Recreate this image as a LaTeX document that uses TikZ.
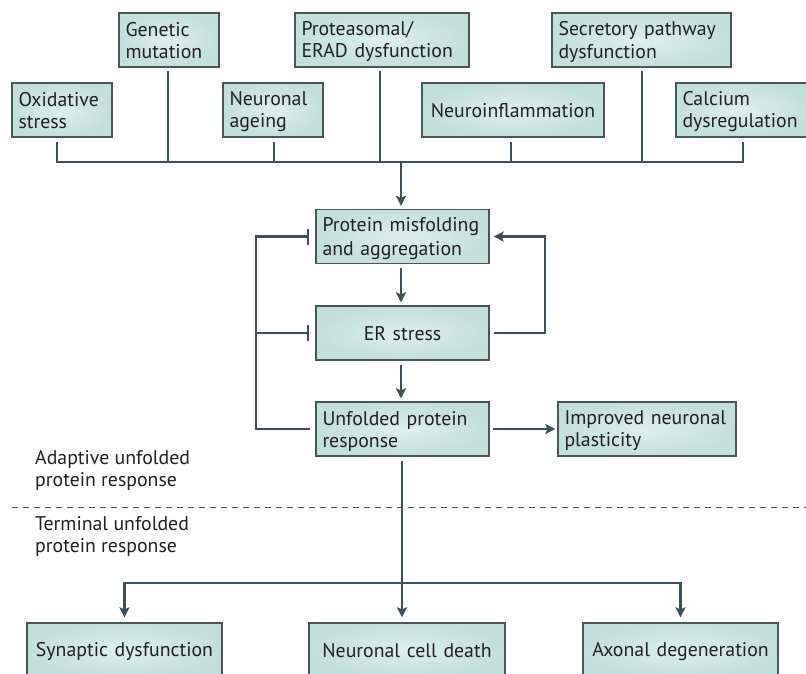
\documentclass[tikz,border=0pt]{standalone}
\usepackage{fontspec}
\setmainfont{PT Sans}
\usetikzlibrary{arrows.meta}
\definecolor{boxin}{HTML}{DDEFEC}
\definecolor{boxout}{HTML}{C3DFDA}
\definecolor{boxline}{HTML}{4A5656}
\definecolor{linec}{HTML}{3D4F5B}
\definecolor{txt}{HTML}{231F20}
\definecolor{dashc}{HTML}{505050}
\newcommand{\mystrut}{\rule[-4pt]{0pt}{22pt}}
\begin{document}
\begin{tikzpicture}[x=1pt,y=-1pt,
  nbox/.style={draw=boxline, line width=1.3pt, inner color=boxin, outer color=boxout,
    inner xsep=6.5pt, inner ysep=0pt, minimum height=54pt, align=left,
    font=\fontsize{19.8}{22}\selectfont, text=txt,
    execute at begin node=\mystrut, execute at end node=\mystrut},
  lbl/.style={inner sep=0pt, align=left, font=\fontsize{19.8}{22}\selectfont, text=txt,
    execute at begin node=\mystrut, execute at end node=\mystrut},
  conn/.style={draw=linec, line width=2.8pt},
  >={Stealth[length=10pt,width=10pt,inset=2pt]},
  arr/.style={conn, ->},
  inh/.style={conn, -{Bar[width=16pt]}},
  dashline/.style={draw=dashc, line width=0.9pt, dash pattern=on 6pt off 5pt}]
\useasboundingbox (0,0) rectangle (806,673);
\clip (0,0) rectangle (806,673);
\fill[white] (0,0) rectangle (806,673);
% top causes
\node[nbox, text width=87pt] (ox) at (62,110) {Oxidative\\stress};
\node[nbox, text width=87pt] (gen) at (169,40) {Genetic\\mutation};
\node[nbox, text width=87pt] (age) at (273,110) {Neuronal\\ageing};
\node[nbox, text width=161pt] (prot) at (382,40) {Proteasomal/\\ERAD dysfunction};
\node[nbox, text width=169pt, align=center] (infl) at (513,110) {Neuroinflammation};
\node[nbox, text width=166pt] (sec) at (641.5,40) {\mbox{Secretory pathway}\\dysfunction};
\node[nbox, text width=119pt] (cal) at (742,110) {Calcium\\dysregulation};
% central chain
\node[nbox, text width=160pt] (pm) at (402.5,236.5) {\mbox{Protein misfolding}\\and aggregation};
\node[nbox, text width=160pt, align=center] (er) at (402.5,333) {ER stress};
\node[nbox, text width=160pt] (upr) at (402.5,429) {\mbox{Unfolded protein}\\response};
\node[nbox, text width=165pt] (imp) at (647,429) {\mbox{Improved neuronal}\\plasticity};
% outcomes
\node[nbox, text width=182pt, align=center] (syn) at (124.5,650) {Synaptic dysfunction};
\node[nbox, text width=183pt, align=center] (ncd) at (407,650) {Neuronal cell death};
\node[nbox, text width=182pt, align=center] (axo) at (680.5,650) {Axonal degeneration};
% labels
\node[lbl, anchor=north west] (ad) at (35,450) {\mbox{Adaptive unfolded}\\protein response};
\node[lbl, anchor=north west] (te) at (35,516) {\mbox{Terminal unfolded}\\protein response};
% bus coordinates
\coordinate (b1) at (57,162);
\coordinate (b2) at (168,162);
\coordinate (b3) at (274,162);
\coordinate (b4) at (380,162);
\coordinate (bM) at (401,162);
\coordinate (b5) at (511,162);
\coordinate (b6) at (642,162);
\coordinate (b7) at (743,162);
\draw[conn] ([yshift=-4pt]b1 |- ox.south) -- (b1) -- (b7) -- ([yshift=-4pt]b7 |- cal.south);
\draw[conn] ([yshift=-3pt]b2 |- gen.south) -- (b2);
\draw[conn] ([yshift=-4pt]b3 |- age.south) -- (b3);
\draw[conn] ([yshift=-3pt]b4 |- prot.south) -- (b4);
\draw[conn] ([yshift=-4pt]b5 |- infl.south) -- (b5);
\draw[conn] ([yshift=-3pt]b6 |- sec.south) -- (b6);
\draw[arr] (bM) -- ([yshift=3pt]bM |- pm.north);
% chain arrows
\draw[arr] ([yshift=-4pt]bM |- pm.south) -- ([yshift=3pt]bM |- er.north);
\draw[arr] ([yshift=-4pt]bM |- er.south) -- ([yshift=3pt]bM |- upr.north);
% feedback loop
\coordinate (fr) at (545,0);
\draw[arr] ([xshift=4pt]er.east) -| (fr |- pm.east) -- ([xshift=4pt]pm.east);
% inhibition
\coordinate (fl) at (256,0);
\draw[inh] ([xshift=-5pt]upr.west) -| (fl |- pm.west) -- ([xshift=-6pt]pm.west);
\draw[inh] (fl |- er.west) -- ([xshift=-6pt]er.west);
% to improved plasticity
\draw[arr] ([xshift=3pt]upr.east) -- ([xshift=-2pt]imp.west);
% dashed divider
\coordinate (dsl) at (12,507);
\coordinate (dsr) at (806,507);
\draw[dashline] (dsl) -- (dsr);
% down to outcomes
\coordinate (d) at (402,583);
\draw[conn] ([yshift=-4pt]d |- upr.south) -- (d);
\draw[arr] (d) -- ([yshift=5pt]d |- ncd.north);
\draw[conn, <->] ([yshift=5pt]syn.north) |- (d) -| ([yshift=5pt]axo.north);
\end{tikzpicture}
\end{document}
